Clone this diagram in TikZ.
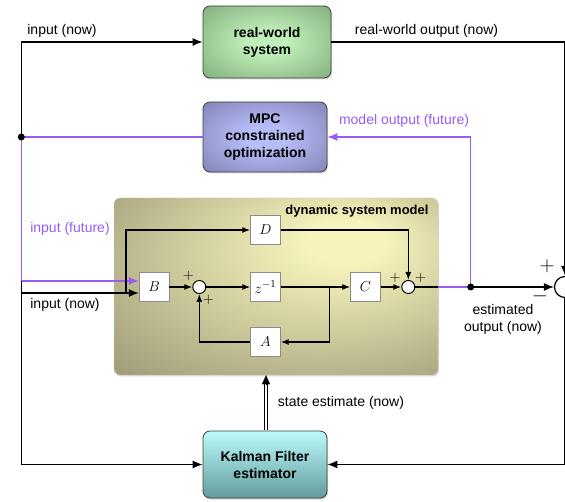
\documentclass[tikz,border=0pt]{standalone}
\usepackage{fontspec}
\setmainfont{Liberation Sans}
\usetikzlibrary{shapes,arrows.meta,shadows}
\definecolor{purp}{RGB}{152,92,245}
\definecolor{rwin}{RGB}{192,238,184}
\definecolor{rwout}{RGB}{118,166,116}
\definecolor{mpcin}{RGB}{184,188,248}
\definecolor{mpcout}{RGB}{122,122,172}
\definecolor{kftop}{RGB}{188,250,250}
\definecolor{kfbot}{RGB}{98,156,158}
\definecolor{dsmin}{RGB}{246,244,188}
\definecolor{dsmout}{RGB}{152,148,114}
\pgfdeclareradialshading{rwshade}{\pgfpoint{0bp}{0bp}}{color(0bp)=(rwin); color(8bp)=(rwin); color(40bp)=(rwout); color(50bp)=(rwout)}
\pgfdeclareradialshading{mpcshade}{\pgfpoint{0bp}{0bp}}{color(0bp)=(mpcin); color(8bp)=(mpcin); color(40bp)=(mpcout); color(50bp)=(mpcout)}
\pgfdeclareradialshading{dsmshade}{\pgfpoint{12bp}{14bp}}{color(0bp)=(dsmin); color(6bp)=(dsmin); color(44bp)=(dsmout); color(60bp)=(dsmout)}
\tikzstyle{sysbox} = [rectangle, draw=black!75, line width=0.8pt, rounded corners=7pt,
	align=center, font=\fontsize{14}{17}\selectfont\bfseries,
	drop shadow={shadow xshift=1pt, shadow yshift=-1.5pt, opacity=0.35}]
\tikzstyle{rwbox} = [sysbox, shading=rwshade, minimum width=128pt, minimum height=72pt]
\tikzstyle{mpcbox} = [sysbox, shading=mpcshade, minimum width=124pt, minimum height=70pt]
\tikzstyle{kfbox} = [sysbox, top color=kftop, bottom color=kfbot, minimum width=124pt, minimum height=67pt]
\tikzstyle{modelbox} = [rectangle, draw=black!20, rounded corners=6pt, shading=dsmshade,
	minimum width=324pt, minimum height=177pt,
	drop shadow={shadow xshift=1pt, shadow yshift=-1.5pt, opacity=0.3}]
\tikzstyle{block} = [rectangle, draw=black!45, fill=white, minimum width=30pt, minimum height=29pt,
	font=\fontsize{15}{17}\selectfont]
\tikzstyle{sum} = [circle, draw, line width=1pt, fill=white, minimum size=13pt, inner sep=0pt]
\tikzstyle{line} = [draw, line width=1.2pt, -{Latex[length=10pt,width=8pt]}]
\tikzstyle{wire} = [draw, line width=1.2pt]
\tikzstyle{inner} = [draw, line width=1.3pt, -{Latex[length=8pt,width=6pt]}]
\tikzstyle{future} = [draw=purp, line width=1.4pt]
\tikzstyle{label} = [font=\fontsize{14}{17}\selectfont, inner sep=0pt]
\tikzstyle{sign} = [font=\fontsize{14}{14}\selectfont, inner sep=0pt]

\begin{document}
\begin{tikzpicture}[x=1pt, y=-1pt]
	\clip (0,0) rectangle (565,502);
	\fill[white] (0,0) rectangle (565,502);
	% Place nodes
	\node [rwbox] (rw) at (267,42) {real-world\\system};
	\node [mpcbox] (mpc) at (265,137) {MPC\\constrained\\optimization};
	\node [modelbox] (dsm) at (276,286.5) {};
	\node [kfbox] (kf) at (265,464.5) {Kalman Filter\\estimator};
	\node [block] (B) at (154,287) {$B$};
	\node [sum] (sum1) at (199.3,287) {};
	\node [block] (zinv) at (265.5,287) {$z^{-1}$};
	\node [block] (D) at (265.5,230) {$D$};
	\node [block] (A) at (265.5,342) {$A$};
	\node [block] (C) at (365.5,287) {$C$};
	\node [sum] (sum2) at (408.3,287) {};
	\node [circle, draw, line width=1.2pt, fill=white, minimum size=21pt, inner sep=0pt] (cmp) at (565,287) {};
	\coordinate (split) at (21.3,137);
	\coordinate (fut) at (21.3,281);
	\coordinate (now) at (21.3,293);
	\coordinate (branch) at (126,293);
	\coordinate (tap) at (329.3,287);
	\coordinate (est) at (470.7,287);
	\coordinate (stfoot) at (266,430.5);
	% Labels
	\node [label] (inputnow) at (62,31) {input (now)};
	\node [label] (rwout) at (426.5,31) {real-world output (now)};
	\node [label, text=purp] (modelout) at (404,121) {model output (future)};
	\node [label, text=purp] (inputfut) at (70,229) {input (future)};
	\node [label] (inputnow2) at (65,305) {input (now)};
	\node [font=\fontsize{13}{15}\selectfont\bfseries, inner sep=0pt] (dsmtitle) at (357,211) {dynamic system model};
	\node [label] (stlabel) at (341,403) {state estimate (now)};
	\node [label, align=center] (estlabel) at (503,319) {estimated\\output (now)};
	\node [sign] (p1) at (188.3,276) {$+$};
	\node [sign] (p2) at (208.3,299.5) {$+$};
	\node [sign] (p3) at (395,278) {$+$};
	\node [sign] (p4) at (420.7,278) {$+$};
	\node [font=\fontsize{22}{22}\selectfont, inner sep=0pt] (plus) at (547,266) {$+$};
	\node [font=\fontsize{22}{22}\selectfont, inner sep=0pt] (minus) at (540,296) {$-$};
	% Draw edges
	\path [future] (mpc.west) -- (split);
	\path [line] (split) |- (rw.west);
	\path [future, -{Latex[length=10pt,width=8pt]}] (split) -- (fut) -- (fut -| B.west);
	\path [line] (fut) |- (kf.west);
	\path [line] (now) -- (now -| B.west);
	\path [inner] (branch) |- (D.west);
	\path [inner] (B.east) -- (sum1.west);
	\path [inner] (sum1.east) -- (zinv.west);
	\path [inner] (zinv.east) -- (C.west);
	\path [inner] (tap) |- (A.east);
	\path [inner] (A.west) -| (sum1.south);
	\path [inner] (D.east) -| (sum2.north);
	\path [inner] (C.east) -- (sum2.west);
	\path [wire] (sum2.east) -- (sum2 -| dsm.east);
	\path [future] (sum2 -| dsm.east) -- (est);
	\path [future, -{Latex[length=10pt,width=8pt]}] (est) |- (mpc.east);
	\path [line] (est) -- (cmp.west);
	\fill (split) circle (3.5pt);
	\fill (est) circle (3.5pt);
	\path [line] (rw.east) -| (cmp.north);
	\path [line] (cmp.south) |- (kf.east);
	\draw [line width=0.8pt, double=white, double distance=2.2pt, shorten >=8pt] (stfoot) -- (stfoot |- dsm.south);
	\draw [-{Triangle[length=9pt,width=8pt]}, line width=0.1pt] ([yshift=-9pt]stfoot |- dsm.south) -- (stfoot |- dsm.south);
\end{tikzpicture}
\end{document}
